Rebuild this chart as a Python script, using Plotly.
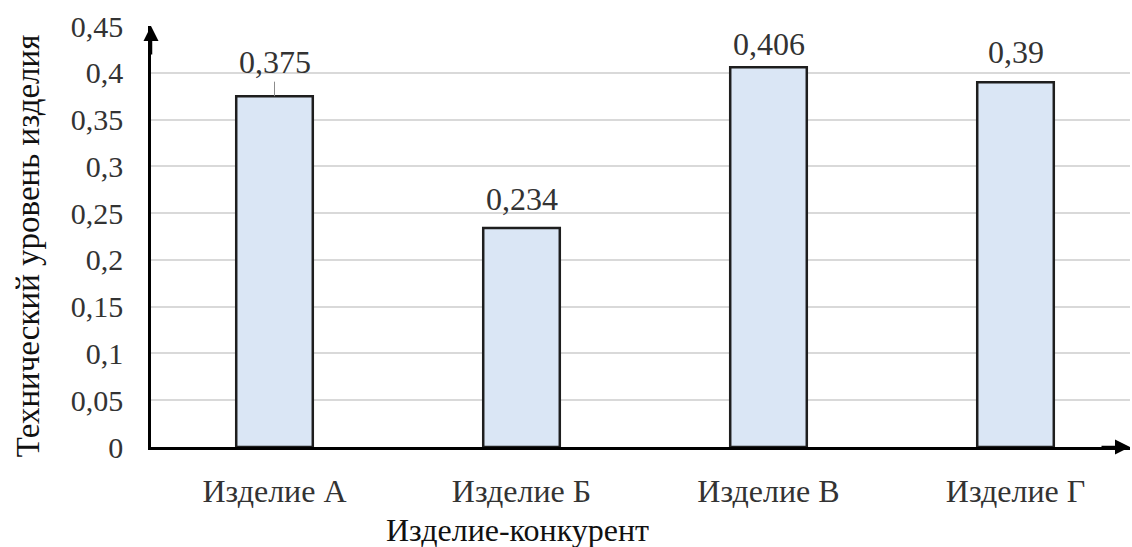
import plotly.graph_objects as go

# Technical level of each competing product
products = ["Изделие А", "Изделие Б", "Изделие В", "Изделие Г"]
tech_level = [0.375, 0.234, 0.406, 0.39]
value_labels = ["0,375", "0,234", "0,406", "0,39"]
y_ticks = [0, 0.05, 0.1, 0.15, 0.2, 0.25, 0.3, 0.35, 0.4, 0.45]
y_tick_labels = ["0", "0,05", "0,1", "0,15", "0,2", "0,25", "0,3", "0,35", "0,4", "0,45"]

# vertical offset (px) of each value label above its bar
label_offsets = [34, 29, 23, 30]

FONT = "Liberation Serif"
TEXT = "#333333"
FS = 32
FS_Y = 30

fig = go.Figure(
    go.Bar(
        x=list(range(len(products))),
        y=tech_level,
        width=0.31,
        marker=dict(color="#dae6f5", line=dict(color="#1e1e1e", width=2.5)),
        hoverinfo="skip",
    )
)

annotations = []
for i, (v, lab, off) in enumerate(zip(tech_level, value_labels, label_offsets)):
    annotations.append(dict(
        x=i, y=v, xref="x", yref="y", text=lab,
        showarrow=(i == 0), arrowhead=0, arrowwidth=1, arrowcolor="#8c8c8c",
        ax=0, ay=-off, standoff=0,
        yshift=0 if i == 0 else off,
        font=dict(family=FONT, size=FS, color=TEXT),
    ))

# arrow heads on the ends of both axes
annotations.append(dict(
    xref="paper", yref="paper", x=1.0, y=0, ax=-30, ay=0,
    showarrow=True, arrowhead=2, arrowsize=1.2, arrowwidth=2.5, arrowcolor="#000000", text="",
    standoff=0,
))
annotations.append(dict(
    xref="paper", yref="paper", x=0, y=1.0, ax=0, ay=30,
    showarrow=True, arrowhead=2, arrowsize=1.2, arrowwidth=2.5, arrowcolor="#000000", text="",
    standoff=0,
))

# axis titles
annotations.append(dict(
    xref="paper", yref="paper", x=0.374, y=-0.197, xanchor="center", yanchor="middle",
    showarrow=False, text="Изделие-конкурент",
    font=dict(family=FONT, size=FS, color="#111111"),
))
annotations.append(dict(
    xref="paper", yref="paper", x=0, y=0.477, xshift=-123, xanchor="center", yanchor="middle",
    showarrow=False, text="Технический уровень изделия", textangle=-90,
    font=dict(family=FONT, size=33, color="#111111"),
))

fig.update_layout(
    width=1132, height=547,
    margin=dict(l=151, r=2, t=26, b=100),
    paper_bgcolor="white", plot_bgcolor="white",
    showlegend=False,
    font=dict(family=FONT, size=FS, color=TEXT),
    annotations=annotations,
    xaxis=dict(
        tickmode="array", tickvals=list(range(len(products))), ticktext=products,
        range=[-0.5, -0.5 + 979 / 247],
        showline=True, linecolor="#000000", linewidth=2.5,
        showgrid=False, zeroline=False, ticks="",
        ticklabelstandoff=14,
        tickfont=dict(family=FONT, size=FS, color=TEXT),
    ),
    yaxis=dict(
        range=[0, 0.45],
        tickmode="array", tickvals=y_ticks, ticktext=y_tick_labels,
        showline=True, linecolor="#000000", linewidth=2.5,
        showgrid=True, gridcolor="#d9d9d9", gridwidth=2,
        zeroline=False, ticks="", ticklen=0,
        ticklabelstandoff=19,
        tickfont=dict(family=FONT, size=FS_Y, color=TEXT),
    ),
)

fig.write_html("out.html")
